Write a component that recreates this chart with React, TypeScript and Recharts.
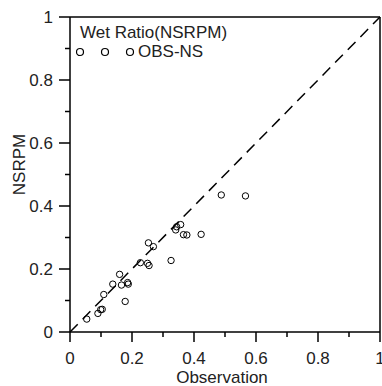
import { ScatterChart, Scatter, XAxis, YAxis, ReferenceLine } from 'recharts'

// observed vs NSRPM wet ratio
const obsValues = [
  0.054, 0.09, 0.099, 0.104, 0.109, 0.138, 0.16, 0.166, 0.178, 0.186, 0.188,
  0.227, 0.25, 0.255, 0.253, 0.269, 0.326, 0.341, 0.344, 0.357, 0.366, 0.377,
  0.423, 0.488, 0.566
]
const modelValues = [
  0.041, 0.059, 0.071, 0.072, 0.119, 0.152, 0.183, 0.149, 0.097, 0.157, 0.152,
  0.22, 0.218, 0.211, 0.283, 0.271, 0.227, 0.324, 0.334, 0.341, 0.309, 0.308,
  0.31, 0.435, 0.432
]
const allTicks = [0, 0.1, 0.2, 0.3, 0.4, 0.5, 0.6, 0.7, 0.8, 0.9, 1]
const labelTicks = [0, 0.2, 0.4, 0.6, 0.8, 1]

const data = obsValues.map((x, i) => ({ x, y: modelValues[i] }))

const FONT = 'Arial, "Liberation Sans", sans-serif'
const FS = 17

const isMajor = (v: number) => labelTicks.some((t) => Math.abs(t - v) < 1e-6)

const XTick = ({ x, y, payload }: any) => {
  const major = isMajor(payload.value)
  return (
    <g>
      <line x1={x} x2={x} y1={y} y2={y + (major ? 10 : 5)} stroke="#000" strokeWidth={1.5} />
      {major && (
        <text x={x} y={y + 32} textAnchor="middle" fontSize={FS} fontFamily={FONT} fill="#222">
          {payload.value}
        </text>
      )}
    </g>
  )
}

const YTick = ({ x, y, payload }: any) => {
  const major = isMajor(payload.value)
  return (
    <g>
      <line x1={x} x2={x - (major ? 11 : 5)} y1={y} y2={y} stroke="#000" strokeWidth={1.5} />
      {major && (
        <text x={x - 17} y={y + 6} textAnchor="end" fontSize={FS} fontFamily={FONT} fill="#222">
          {payload.value}
        </text>
      )}
    </g>
  )
}

const LegendBox = () => (
  <div
    style={{
      position: 'absolute',
      left: 76,
      top: 23,
      fontFamily: FONT,
      fontSize: FS,
      color: '#222',
      lineHeight: '19px'
    }}
  >
    <div style={{ marginLeft: 4 }}>Wet Ratio(NSRPM)</div>
    <div style={{ display: 'flex', alignItems: 'center' }}>
      <svg width={64} height={14}>
        {[4, 29, 54].map((cx) => (
          <circle key={cx} cx={cx} cy={7} r={3.5} fill="none" stroke="#000" strokeWidth={1.2} />
        ))}
      </svg>
      <span style={{ marginLeft: -2 }}>OBS-NS</span>
    </div>
  </div>
)

const YLabel = ({ viewBox }: any) => (
  <text
    x={viewBox.x + 19}
    y={viewBox.y + viewBox.height / 2 - 10}
    transform={`rotate(-90 ${viewBox.x + 19} ${viewBox.y + viewBox.height / 2 - 10})`}
    textAnchor="middle"
    dominantBaseline="central"
    fontSize={FS}
    fontFamily={FONT}
    fill="#222"
  >
    NSRPM
  </text>
)

export default function App() {
  return (
    <div style={{ position: 'absolute', left: 0, top: 0, width: 382, height: 386, background: '#fff' }}>
      <ScatterChart width={382} height={386} margin={{ top: 17, right: 2, bottom: 0, left: 0 }}>
        <XAxis
          type="number"
          dataKey="x"
          domain={[0, 1]}
          ticks={allTicks}
          interval={0}
          tickSize={0}
          tickMargin={0}
          height={54}
          axisLine={{ stroke: '#000', strokeWidth: 1.5 }}
          tickLine={false}
          tick={<XTick />}
          label={{ value: 'Observation', position: 'insideBottom', offset: 3, dx: -3, fontSize: FS, fontFamily: FONT, fill: '#222' }}
        />
        <YAxis
          type="number"
          dataKey="y"
          domain={[0, 1]}
          ticks={allTicks}
          interval={0}
          tickSize={0}
          tickMargin={0}
          width={70}
          axisLine={{ stroke: '#000', strokeWidth: 1.5 }}
          tickLine={false}
          tick={<YTick />}
          label={<YLabel />}
        />
        <ReferenceLine y={1} stroke="#000" strokeWidth={1.5} />
        <ReferenceLine x={1} stroke="#000" strokeWidth={1.5} />
        <ReferenceLine
          segment={[{ x: 0, y: 0 }, { x: 1, y: 1 }]}
          stroke="#000"
          strokeWidth={1.5}
          strokeDasharray="11 7"
        />
        <Scatter
          data={data}
          isAnimationActive={false}
          shape={(p: any) => <circle cx={p.cx} cy={p.cy} r={3.2} fill="none" stroke="#000" strokeWidth={1} />}
        />
      </ScatterChart>
      <LegendBox />
    </div>
  )
}
